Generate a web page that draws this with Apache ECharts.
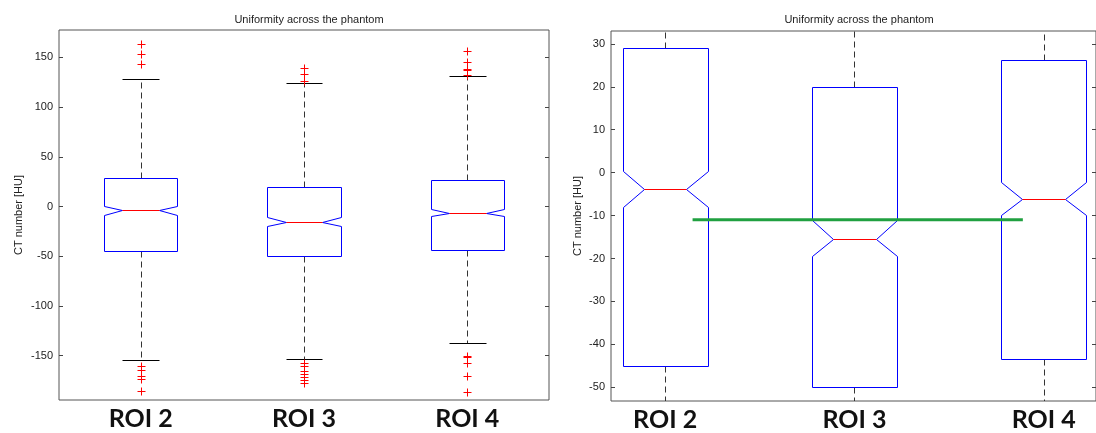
<!DOCTYPE html>
<html>
<head>
<meta charset="utf-8">
<script src="https://cdn.jsdelivr.net/npm/echarts@6/dist/echarts.min.js"></script>
<style>
html,body{margin:0;padding:0;background:#fff;}
#chart{width:1096px;height:433px;}
</style>
</head>
<body>
<div id="chart"></div>
<script>
// ---- data ----
const categories = ['ROI 2', 'ROI 3', 'ROI 4'];
const q1 = [-45.0, -50.0, -43.5];
const q3 = [29.0, 19.9, 26.3];
const medians = [-3.9, -15.4, -6.1];
const notchLow = [-8.1, -19.4, -9.9];
const notchHigh = [0.5, -11.0, -2.2];
const whiskerLow = [-154.6, -153.6, -137.5];
const whiskerHigh = [128.2, 124.5, 131.2];
const outliersROI2 = [163.4, 153.3, 143.3, -160.3, -164.4, -170.4, -173.7, -185.2];
const outliersROI3 = [139.5, 133.0, 126.0, -157.0, -160.4, -165.1, -168.4, -171.7, -174.4, -177.7];
const outliersROI4 = [156.1, 145.3, 138.6, 137.2, 132.3, -150.3, -151.6, -157.0, -170.4, -186.8];
const leftTicks = [-150, -100, -50, 0, 50, 100, 150];
const rightTicks = [-50, -40, -30, -20, -10, 0, 10, 20, 30];
const referenceLevel = -11.0;
const referenceSpan = [1.145, 2.89];
const titleText = 'Uniformity across the phantom';
const yName = 'CT number [HU]';

// ---- build ----
const outlierLists = [outliersROI2, outliersROI3, outliersROI4];
const boxData = categories.map((c, i) => [i + 1, q1[i], notchLow[i], medians[i], notchHigh[i], q3[i], whiskerLow[i], whiskerHigh[i]]);
const outlierData = [];
outlierLists.forEach((arr, i) => arr.forEach(v => outlierData.push([i + 1, v])));
const positions = categories.map((c, i) => i + 1);

const HALF = 0.225;
const BLUE = '#0000ff', RED = '#ff0000', WH = '#333333';

function renderBox(params, api) {
  const cs = params.coordSys;
  const x = api.value(0);
  const v = [1,2,3,4,5,6,7].map(k => api.value(k));
  const [lo, nLo, med, nHi, hi, wLo, wHi] = v;
  const P = (xx, yy) => { const p = api.coord([xx, yy]); return [Math.round(p[0]) + 0.5, Math.round(p[1]) + 0.5]; };
  const top = cs.y, bot = cs.y + cs.height;
  const clampY = y => Math.max(top, Math.min(bot, y));
  const children = [];
  const c = P(x, hi), cl = P(x, lo);
  const pwh = P(x, wHi), pwl = P(x, wLo);
  children.push({type: 'line', shape: {x1: c[0], y1: c[1], x2: c[0], y2: clampY(pwh[1])}, style: {stroke: WH, lineWidth: 1, lineDash: [6, 4]}});
  children.push({type: 'line', shape: {x1: cl[0], y1: cl[1], x2: cl[0], y2: clampY(pwl[1])}, style: {stroke: WH, lineWidth: 1, lineDash: [6, 4]}});
  if (pwh[1] >= top && pwh[1] <= bot) {
    const a = P(x - HALF / 2, wHi), b = P(x + HALF / 2, wHi);
    children.push({type: 'line', shape: {x1: a[0], y1: a[1], x2: b[0], y2: b[1]}, style: {stroke: '#000', lineWidth: 1}});
  }
  if (pwl[1] >= top && pwl[1] <= bot) {
    const a = P(x - HALF / 2, wLo), b = P(x + HALF / 2, wLo);
    children.push({type: 'line', shape: {x1: a[0], y1: a[1], x2: b[0], y2: b[1]}, style: {stroke: '#000', lineWidth: 1}});
  }
  const pts = [P(x - HALF, hi), P(x + HALF, hi), P(x + HALF, nHi), P(x + HALF / 2, med), P(x + HALF, nLo), P(x + HALF, lo),
               P(x - HALF, lo), P(x - HALF, nLo), P(x - HALF / 2, med), P(x - HALF, nHi)];
  children.push({type: 'polygon', shape: {points: pts}, style: {fill: 'none', stroke: BLUE, lineWidth: 1}});
  const m1 = P(x - HALF / 2, med), m2 = P(x + HALF / 2, med);
  children.push({type: 'line', shape: {x1: m1[0], y1: m1[1], x2: m2[0], y2: m2[1]}, style: {stroke: RED, lineWidth: 1}});
  return {type: 'group', children};
}

function renderOutlier(params, api) {
  const cs = params.coordSys;
  const p = api.coord([api.value(0), api.value(1)]);
  if (p[1] < cs.y || p[1] > cs.y + cs.height) return null;
  const x = Math.round(p[0]) + 0.5, y = Math.round(p[1]) + 0.5, r = 4;
  return {type: 'group', children: [
    {type: 'line', shape: {x1: x - r, y1: y, x2: x + r, y2: y}, style: {stroke: RED, lineWidth: 1}},
    {type: 'line', shape: {x1: x, y1: y - r, x2: x, y2: y + r}, style: {stroke: RED, lineWidth: 1}}
  ]};
}

const tickFont = {fontFamily: 'Liberation Sans, Arial, sans-serif', fontSize: 11, color: '#222'};
const roiLabel = {fontFamily: 'Lato, sans-serif', fontSize: 25, fontWeight: 'bold', color: '#111', margin: 6,
  customValues: positions, formatter: v => categories[Math.round(v) - 1]};

function yAxes(gridIndex, min, max, ticks, nameGap) {
  return [
    {type: 'value', gridIndex, position: 'left', min, max, name: yName, nameLocation: 'middle', nameGap,
     nameTextStyle: {fontFamily: 'Liberation Sans, Arial, sans-serif', fontSize: 11, color: '#222'},
     axisLine: {show: false}, splitLine: {show: false},
     axisTick: {show: true, inside: true, length: 4, customValues: ticks, lineStyle: {color: '#444'}},
     axisLabel: Object.assign({customValues: ticks, margin: 6}, tickFont)},
    {type: 'value', gridIndex, position: 'right', min, max,
     axisLine: {show: false}, splitLine: {show: false},
     axisTick: {show: true, inside: true, length: 4, customValues: ticks, lineStyle: {color: '#444'}},
     axisLabel: {show: false}}
  ];
}

const chart = echarts.init(document.getElementById('chart'), null, {renderer: 'canvas'});
chart.setOption({
  animation: false,
  backgroundColor: '#fff',
  title: [
    {text: titleText, left: 304, top: 9, textAlign: 'center', textStyle: {fontFamily: 'Liberation Sans, Arial, sans-serif', fontSize: 11, fontWeight: 'normal', color: '#222'}},
    {text: titleText, left: 854, top: 9, textAlign: 'center', textStyle: {fontFamily: 'Liberation Sans, Arial, sans-serif', fontSize: 11, fontWeight: 'normal', color: '#222'}}
  ],
  grid: [
    {left: 59, top: 30, width: 490, height: 370, show: true, borderColor: '#555', borderWidth: 1, backgroundColor: '#fff', containLabel: false},
    {left: 611, top: 31, width: 487, height: 370, show: true, borderColor: '#555', borderWidth: 1, backgroundColor: '#fff', containLabel: false}
  ],
  xAxis: [
    {type: 'value', gridIndex: 0, min: 0.5, max: 3.5, axisLine: {show: false}, axisTick: {show: false}, splitLine: {show: false}, axisLabel: roiLabel},
    {type: 'value', gridIndex: 1, min: 0.714, max: 3.2765, axisLine: {show: false}, axisTick: {show: false}, splitLine: {show: false}, axisLabel: roiLabel}
  ],
  yAxis: [].concat(yAxes(0, -194.5, 177.5, leftTicks, 35), yAxes(1, -53.2, 33.0, rightTicks, 28)),
  series: [
    {type: 'custom', xAxisIndex: 0, yAxisIndex: 0, renderItem: renderBox, data: boxData, clip: true, silent: true},
    {type: 'custom', xAxisIndex: 0, yAxisIndex: 0, renderItem: renderOutlier, data: outlierData, clip: true, silent: true},
    {type: 'custom', xAxisIndex: 1, yAxisIndex: 2, renderItem: renderBox, data: boxData, clip: true, silent: true},
    {type: 'custom', xAxisIndex: 1, yAxisIndex: 2, renderItem: renderOutlier, data: outlierData, clip: true, silent: true},
    {type: 'line', xAxisIndex: 1, yAxisIndex: 2, data: referenceSpan.map(x => [x, referenceLevel]), symbol: 'none',
     lineStyle: {color: '#20a040', width: 3}, silent: true, z: 5}
  ]
});
</script>
</body>
</html>
